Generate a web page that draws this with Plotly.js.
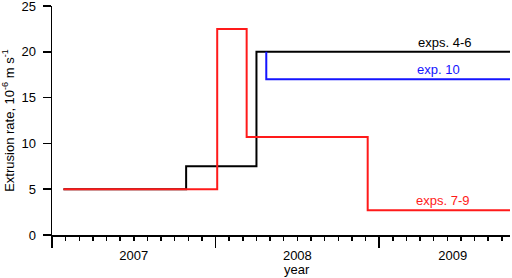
<!DOCTYPE html>
<html>
<head>
<meta charset="utf-8">
<script src="https://cdn.plot.ly/plotly-3.0.1.min.js"></script>
<style>html,body{margin:0;padding:0;background:#fff;}#chart{width:512px;height:278px;}</style>
</head>
<body>
<div id="chart"></div>
<script>
// Step series (decimal year, extrusion rate in 1e-6 m/s)
const blackX = [2007.07, 2007.82, 2008.25, 2009.8];
const blackY = [5, 7.5, 20, 20];
const blueX = [2008.31, 2008.31, 2009.8];
const blueY = [20, 17, 17];
const redX = [2007.07, 2008.01, 2008.19, 2008.93, 2009.8];
const redY = [5, 22.5, 10.7, 2.7, 2.7];

const yearTickVals = [2007.5, 2008.5, 2009.45];
const yearTickText = ['2007', '2008', '2009'];
const yearBounds = [2007, 2008, 2009];

const labels = [
  {text: 'exps. 4-6', x: 2009.40, y: 20, color: '#000000'},
  {text: 'exp. 10', x: 2009.365, y: 17, color: '#1414ff'},
  {text: 'exps. 7-9', x: 2009.39, y: 2.7, color: '#ff1a1a'}
];

const font = {family: 'Liberation Sans, Arial, sans-serif', size: 13, color: '#000'};
const xRange = [2007, 2009.8];

const traces = [
  {x: blackX, y: blackY, mode: 'lines', line: {shape: 'hv', color: '#000000', width: 2}, hoverinfo: 'none'},
  {x: blueX, y: blueY, mode: 'lines', line: {shape: 'hv', color: '#1414ff', width: 2}, hoverinfo: 'none'},
  {x: redX, y: redY, mode: 'lines', line: {shape: 'hv', color: '#ff1a1a', width: 2}, hoverinfo: 'none'},
  {x: [2008.5], y: [0], xaxis: 'x2', mode: 'markers', marker: {opacity: 0}, hoverinfo: 'none'}
];

const annotations = labels.map(l => ({
  text: l.text, x: l.x, y: l.y, xref: 'x', yref: 'y', showarrow: false,
  yanchor: 'bottom', yshift: 0, font: {family: font.family, size: 13, color: l.color}
}));
annotations.push({text: 'year', x: 2008.5, y: 0, xref: 'x', yref: 'y', showarrow: false,
  yanchor: 'top', yshift: -25, font: font});

const layout = {
  width: 512, height: 278,
  margin: {l: 52, r: 2, t: 6, b: 43},
  paper_bgcolor: '#fff', plot_bgcolor: '#fff',
  showlegend: false,
  font: font,
  xaxis: {
    range: xRange, showgrid: false, zeroline: false,
    showline: true, linecolor: '#000', linewidth: 1.5,
    tickmode: 'array', tickvals: yearBounds, showticklabels: false,
    ticks: 'outside', ticklen: 11, tickwidth: 1.5, tickcolor: '#000',
    minor: {tickmode: 'linear', tick0: 2007, dtick: 1/12, ticks: 'outside', ticklen: 4, tickwidth: 1.5, tickcolor: '#000', showgrid: false}
  },
  xaxis2: {
    range: xRange, overlaying: 'x', anchor: 'y', side: 'bottom',
    showgrid: false, zeroline: false, showline: false,
    tickmode: 'array', tickvals: yearTickVals, ticktext: yearTickText,
    ticks: 'outside', ticklen: 8, tickcolor: 'rgba(0,0,0,0)', tickfont: font,
    ticklabeloverflow: 'allow'
  },
  yaxis: {
    range: [0, 25], showgrid: false, zeroline: false,
    showline: true, linecolor: '#000', linewidth: 1.5,
    tickmode: 'array', tickvals: [0, 5, 10, 15, 20, 25],
    ticks: 'outside', ticklen: 8, tickwidth: 1.5, tickcolor: '#000', tickfont: font,
    ticklabeloverflow: 'allow', ticklabelstandoff: 4,
    title: {text: 'Extrusion rate, 10<sup>-6</sup> m s<sup>-1</sup>', font: font, standoff: 4}
  },
  annotations: annotations
};

Plotly.newPlot('chart', traces, layout, {displayModeBar: false, staticPlot: true});
</script>
</body>
</html>
